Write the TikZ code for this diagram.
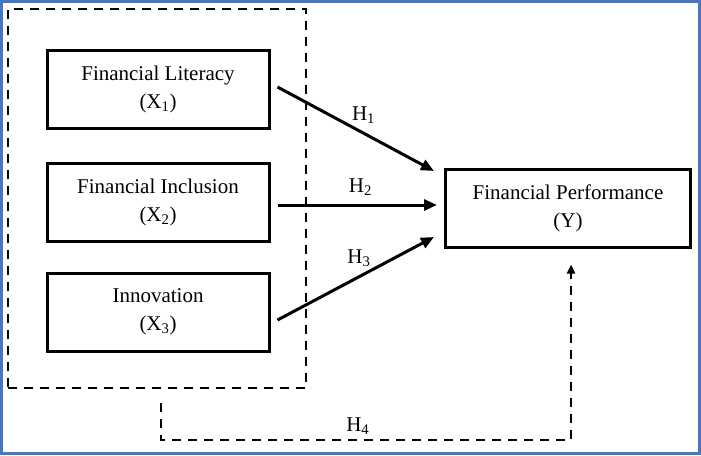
\documentclass[tikz,border=0pt]{standalone}
\usepackage{fontspec}
\setmainfont{Liberation Serif}
\usetikzlibrary{arrows.meta}
\definecolor{framebl}{RGB}{72,118,196}
\tikzset{
  box/.style={draw, line width=3pt, minimum height=78pt, align=center, inner sep=0pt,
    font=\fontsize{21}{28}\selectfont},
  hyp/.style={line width=3pt, -{Triangle[length=13pt,width=11pt]}},
  dashline/.style={line width=2.5pt, dash pattern=on 9pt off 7pt},
  lab/.style={font=\fontsize{21}{24}\selectfont, inner sep=0pt}
}
\begin{document}
\begin{tikzpicture}[x=1pt,y=-1pt]
\useasboundingbox (0,0) rectangle (701,455);
\draw[framebl, line width=3pt] (1.5,1.5) rectangle (699.5,453);
% group dashed box
\node[dashline, draw, minimum width=298pt, minimum height=379pt, inner sep=0pt] (grp) at (157,198.5) {};
% boxes
\node[box, minimum width=222pt] (b1) at (158,89) {Financial Literacy\\(X\textsubscript{1})};
\node[box, minimum width=222pt] (b2) at (158,202) {Financial Inclusion\\(X\textsubscript{2})};
\node[box, minimum width=222pt] (b3) at (158,312) {Innovation\\(X\textsubscript{3})};
\node[box, minimum width=245pt] (y) at (568,208) {Financial Performance\\(Y)};
% arrow tips
\coordinate (t1) at (434,171);
\coordinate (t2) at (437,205);
\coordinate (t3) at (434,237);
\draw[hyp] ([xshift=7pt,yshift=2pt]b1.east) -- (t1) node[lab, pos=0.55, above=8pt] {H\textsubscript{1}};
\draw[hyp] ([xshift=7pt,yshift=-3pt]b2.east) -- (t2) node[lab, pos=0.52, above=8pt] {H\textsubscript{2}};
\draw[hyp] ([xshift=7pt,yshift=-8pt]b3.east) -- (t3) node[lab, pos=0.52, above=9pt] {H\textsubscript{3}};
% H4 path
\coordinate (s4) at ([xshift=4pt,yshift=-14pt]grp.south);
\coordinate (e4) at ([xshift=3pt,yshift=-16pt]y.south);
\draw[dashline, -{Triangle[length=9pt,width=8pt]}] (s4) -- (s4 |- 0,440) -- (e4 |- 0,440) node[lab, pos=0.48, above=4pt] {H\textsubscript{4}} -- (e4);
\end{tikzpicture}
\end{document}
